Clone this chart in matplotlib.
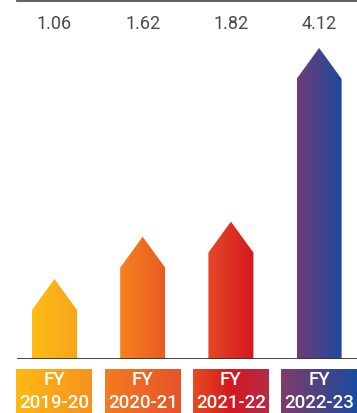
import numpy as np
import matplotlib
matplotlib.use("Agg")
import matplotlib.pyplot as plt
from matplotlib.colors import LinearSegmentedColormap
from matplotlib.patches import Polygon

# Data
years = ["FY\n2019-20", "FY\n2020-21", "FY\n2021-22", "FY\n2022-23"]
values = [1.06, 1.62, 1.82, 4.12]
value_labels = ["1.06", "1.62", "1.82", "4.12"]

bar_colors = [
    ["#FDBD15", "#F9A41B"],
    ["#F5831F", "#E95B24"],
    ["#E54727", "#D6181F"],
    ["#6F3C78", "#1A4B9E"],
]
box_colors = [
    ["#FDB913", "#F7921E"],
    ["#F37C21", "#E8522A"],
    ["#E64B22", "#D5181F", "#B42C46"],
    ["#813B69", "#1A4BA0"],
]

W, H, DPI = 357, 414, 100
fig = plt.figure(figsize=(W / DPI, H / DPI), dpi=DPI)

px_per_unit = 75.5
base_px = 360
top_px = 2
ax_left_px = 17
ymax = (base_px - top_px) / px_per_unit
ax = fig.add_axes([ax_left_px / W, (H - base_px) / H, (W - ax_left_px) / W, (base_px - top_px) / H])

spacing = 88.2
first_px = 37.5
xmin = -first_px / spacing
xmax = (W - ax_left_px - first_px) / spacing

bar_w = 45 / spacing
tip_h = 31 / px_per_unit
box_w = 76 / spacing
box_top = -10 / px_per_unit
box_bot = -(H - base_px) / px_per_unit

grad = np.linspace(0, 1, 256).reshape(1, -1)

for i, (v, cols) in enumerate(zip(values, bar_colors)):
    cmap = LinearSegmentedColormap.from_list(f"bar{i}", cols)
    x0, x1 = i - bar_w / 2, i + bar_w / 2
    poly = Polygon([(x0, 0), (x0, v - tip_h), (i, v), (x1, v - tip_h), (x1, 0)],
                   closed=True, facecolor="none", edgecolor="none")
    ax.add_patch(poly)
    im = ax.imshow(grad, cmap=cmap, extent=[x0, x1, 0, v], aspect="auto",
                   interpolation="bilinear", zorder=2)
    im.set_clip_path(poly)
    ax.text(i, (base_px - 24) / px_per_unit, value_labels[i], ha="center", va="center",
            fontsize=13, color="#4a4a4a", family="Roboto", fontweight="normal")

for i, (lab, cols) in enumerate(zip(years, box_colors)):
    cmap = LinearSegmentedColormap.from_list(f"box{i}", cols)
    im = ax.imshow(grad, cmap=cmap, extent=[i - box_w / 2, i + box_w / 2, box_bot, box_top],
                   aspect="auto", interpolation="bilinear", zorder=2, clip_on=False)
    fy, yr = lab.split("\n")
    ax.text(i, -(380 - base_px) / px_per_unit, fy, ha="center", va="center",
            fontsize=13.5, color="white", family="Roboto", fontweight="medium", zorder=3)
    ax.text(i, -(403 - base_px) / px_per_unit, yr, ha="center", va="center",
            fontsize=13.5, color="white", family="Roboto", fontweight="medium", zorder=3)

ax.axhline(0, color="#333333", lw=1.3, zorder=3)
ax.axhline(ymax, color="#555555", lw=1.3, zorder=3, clip_on=False)

ax.set_xlim(xmin, xmax)
ax.set_ylim(0, ymax)
ax.axis("off")

fig.savefig("out.png", dpi=DPI)
